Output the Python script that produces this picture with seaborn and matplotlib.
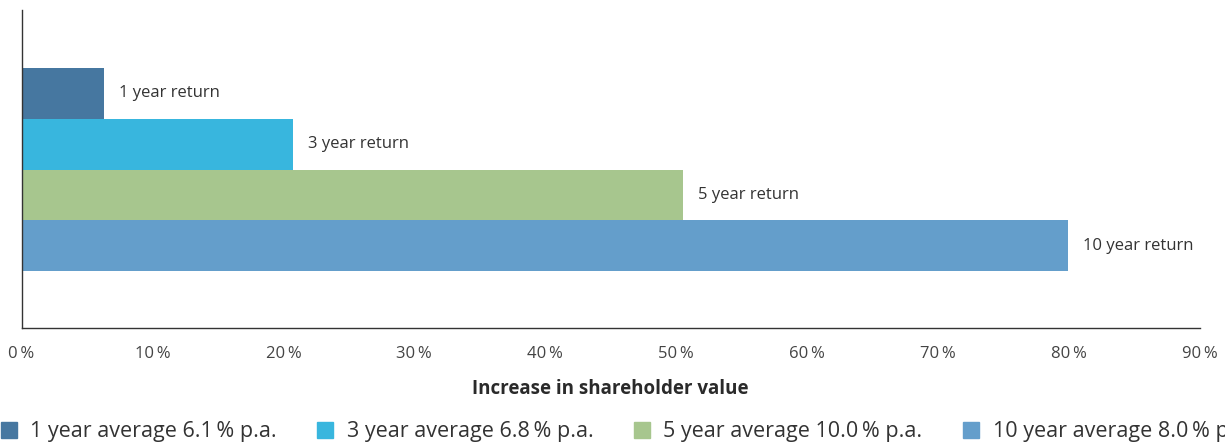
import matplotlib
matplotlib.use("Agg")
import matplotlib.pyplot as plt
from matplotlib.lines import Line2D
import seaborn as sns
import pandas as pd

periods = ["1 year return", "3 year return", "5 year return", "10 year return"]
values = [6.3, 20.7, 50.5, 79.9]
colors = ["#4677a0", "#38b6de", "#a7c68e", "#649ecb"]
legend_labels = ["1 year average 6.1\u2009% p.a.", "3 year average 6.8\u2009% p.a.",
                 "5 year average 10.0\u2009% p.a.", "10 year average 8.0\u2009% p.a."]
xticks = [0, 10, 20, 30, 40, 50, 60, 70, 80, 90]
xlabel = "Increase in shareholder value"

sns.set_theme(style="white")
plt.rcParams["font.family"] = ["Open Sans", "DejaVu Sans"]

df = pd.DataFrame({"period": periods, "value": values})

fig = plt.figure(figsize=(12.25, 4.43), dpi=100)
ax = fig.add_axes([21.5 / 1225, 1 - 328 / 443, (1200 - 21.5) / 1225, (328 - 10) / 443])

sns.barplot(data=df, x="value", y="period", hue="period", palette=colors,
            order=periods, hue_order=periods, width=1.0, saturation=1,
            legend=False, orient="h", ax=ax, linewidth=0, edgecolor="none")

for i, (p, v) in enumerate(zip(periods, values)):
    ax.annotate(p, xy=(v, i), xytext=(11, 0), textcoords="offset points",
                va="center", ha="left", fontsize=12, color="#333333")

ax.set_xlim(0, 90)
ax.set_ylim(4.623, -1.643)
ax.set_xticks(xticks)
ax.set_xticklabels([f"{t}\u2009%" for t in xticks], fontsize=12, color="#444444")
ax.set_yticks([])
ax.set_ylabel("")
ax.tick_params(axis="x", length=0, pad=13)
ax.set_xlabel(xlabel, fontsize=13.5, fontweight="bold", color="#2a2a2a", labelpad=12)

for s in ["top", "right"]:
    ax.spines[s].set_visible(False)
for s in ["left", "bottom"]:
    ax.spines[s].set_color("#333333")
    ax.spines[s].set_linewidth(1.0)

handles = [Line2D([], [], marker="s", linestyle="", markersize=12, color=c) for c in colors]
fig.legend(handles, legend_labels, loc="center left", bbox_to_anchor=(0.0, 1 - 432 / 443),
           ncol=4, frameon=False, fontsize=15.5, handlelength=0.8, handletextpad=0.6,
           columnspacing=1.85, borderpad=0, borderaxespad=0, labelcolor="#333333")

fig.savefig("out.png", dpi=100)
